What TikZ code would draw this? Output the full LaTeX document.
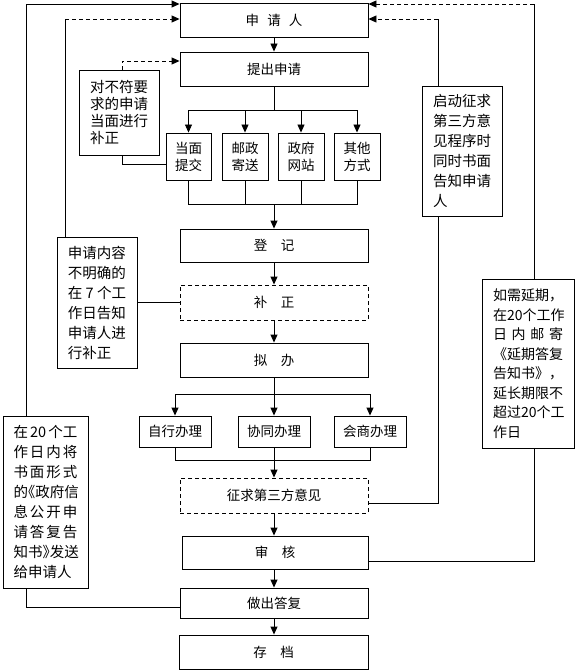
\documentclass[tikz,border=0pt]{standalone}
\usepackage{fontspec}
\setmainfont{Noto Sans CJK SC}
\usetikzlibrary{arrows.meta,calc}
\newcommand{\jline}[2]{\makebox[#1][s]{#2}}
\begin{document}
\begin{tikzpicture}[x=1pt,y=-1pt,
  every node/.style={inner sep=0pt},
  line/.style={line width=0.9pt},
  dline/.style={line width=0.9pt,dash pattern=on 4pt off 3pt},
  arr/.style={-{Triangle[length=8pt,width=7pt]}},
  mainbox/.style={draw,line width=0.9pt,minimum width=188pt,minimum height=34pt,font=\fontsize{13.5}{16}\selectfont},
  dbox/.style={mainbox,dash pattern=on 4pt off 3pt},
  smallbox/.style={draw,line width=0.9pt,minimum width=46pt,minimum height=47pt,align=center,font=\fontsize{13.5}{17}\selectfont},
  banbox/.style={draw,line width=0.9pt,minimum width=72pt,minimum height=31pt,font=\fontsize{13.5}{16}\selectfont},
  sidebox/.style={draw,line width=0.9pt,align=left,font=\fontsize{14.5}{20}\selectfont}]
\useasboundingbox (0,0) rectangle (579,671);
\fill[white] (0,0) rectangle (579,671);

% main column
\node[mainbox] (shenqingren) at (274,20) {申\hspace{0.6em}请\hspace{0.6em}人};
\node[mainbox] (tichu) at (274,69) {提出申请};
\node[smallbox,minimum width=45pt] (dangmian) at (188.5,156.5) {当面\\提交};
\node[smallbox] (youzheng) at (245,156.5) {邮政\\寄送};
\node[smallbox] (zhengfu) at (301,156.5) {政府\\网站};
\node[smallbox] (qita) at (357,156.5) {其他\\方式};
\node[mainbox,minimum height=33pt] (dengji) at (274,245.5) {登\hspace{1em}记};
\node[dbox,minimum height=35pt] (buzheng) at (274,302.5) {补\hspace{1em}正};
\node[mainbox] (niban) at (274,360) {拟\hspace{1em}办};
\node[banbox] (zixing) at (175,431.5) {自行办理};
\node[banbox] (xietong) at (274,431.5) {协同办理};
\node[banbox] (huishang) at (370,431.5) {会商办理};
\node[dbox,minimum height=35pt] (zhengqiu) at (274,495.5) {征求第三方意见};
\node[mainbox,minimum width=186pt,minimum height=33pt] (shenhe) at (275,552.5) {审\hspace{1em}核};
\node[mainbox,minimum height=30pt] (dachu) at (274,603) {做出答复};
\node[mainbox,minimum width=189pt] (cundang) at (273.5,652) {存\hspace{1em}档};

% side boxes
\node[sidebox,minimum width=80pt,minimum height=85pt,font=\fontsize{14.5}{17}\selectfont] (A) at (119,112.5)
  {对不符要\\求的申请\\当面进行\\补正};
\node[sidebox,minimum width=80pt,minimum height=131pt] (B) at (97,302.5)
  {申请内容\\不明确的\\在 7 个工\\作日告知\\申请人进\\行补正};
\node[sidebox,minimum width=85pt,minimum height=172pt] (C) at (45.5,502)
  {\jline{64pt}{在\hfil 20\hfil 个工}\\
   \jline{64pt}{作\hfil 日\hfil 内\hfil 将}\\
   \jline{64pt}{书\hfil 面\hfil 形\hfil 式}\\
   \jline{64pt}{的\kern-.5em《政府信}\\
   \jline{64pt}{息\hfil 公\hfil 开\hfil 申}\\
   \jline{64pt}{请\hfil 答\hfil 复\hfil 告}\\
   \jline{64pt}{知书》\kern-.5em 发送}\\
   给申请人};
\node[sidebox,minimum width=80pt,minimum height=130pt] (D) at (462,151)
  {启动征求\\第三方意\\见程序时\\同时书面\\告知申请\\人};
\node[sidebox,minimum width=92pt,minimum height=169pt,font=\fontsize{14}{19.5}\selectfont] (E) at (528,363.5)
  {如需延期，\\
   \jline{70pt}{在20个工作}\\
   \jline{70pt}{日\hfil 内\hfil 邮\hfil 寄}\\
   《延期答复\\
   告知书》，\\
   延长期限不\\
   \jline{70pt}{超过20个工}\\
   作日};

% main flow connectors
\draw[line,arr] (shenqingren.south) -- (tichu.north);
\coordinate (j0) at (274,110);
\draw[line] (tichu.south) -- (j0);
\draw[line,arr] (j0) -| (dangmian.north);
\draw[line,arr] (j0) -| (youzheng.north);
\draw[line,arr] (j0) -| (zhengfu.north);
\draw[line,arr] (j0) -| (qita.north);
\coordinate (j1) at (274,204);
\draw[line] (dangmian.south) |- (j1);
\draw[line] (youzheng.south) |- (j1);
\draw[line] (zhengfu.south) |- (j1);
\draw[line] (qita.south) |- (j1);
\draw[line,arr] (j1) -- (dengji.north);
\draw[line,arr] (dengji.south) -- (buzheng.north);
\draw[line,arr] (buzheng.south) -- (niban.north);
\coordinate (j2) at (274,394);
\draw[line] (niban.south) -- (j2);
\draw[line,arr] (j2) -| (zixing.north);
\draw[line,arr] (j2) -- (xietong.north);
\draw[line,arr] (j2) -| (huishang.north);
\coordinate (j3) at (274,460);
\draw[line] (zixing.south) |- (j3);
\draw[line] (xietong.south) -- (j3);
\draw[line] (huishang.south) |- (j3);
\draw[line,arr] (j3) -- (zhengqiu.north);
\draw[line,arr] (zhengqiu.south) -- (zhengqiu.south |- shenhe.north);
\draw[line,arr] (shenhe.south -| zhengqiu.south) -- (zhengqiu.south |- dachu.north);
\draw[line,arr] (dachu.south) -- (dachu.south |- cundang.north);

% side connectors
\coordinate (pA) at (122,61);
\draw[dline,arr] (pA |- A.north) -- (pA) -- (pA -| tichu.west);
\coordinate (qA) at (122,164);
\draw[line] (qA |- A.south) -- (qA) -- (qA -| dangmian.west);

\draw[line] (B.east) -- (buzheng.west);
\coordinate (pB) at (65,19);
\draw[line] (pB |- B.north) -- (pB);
\draw[dline,arr] (pB) -- (pB -| shenqingren.west);

\coordinate (pC) at (26,4);
\draw[line,arr] (pC |- C.north) -- (pC) -- (pC -| shenqingren.west);
\coordinate (qC) at (26,607);
\draw[line] (qC |- C.south) -- (qC) -- (qC -| dachu.west);

\coordinate (pD) at (438,19);
\draw[line] (pD |- D.north) -- (pD);
\draw[dline,arr] (pD) -- (pD -| shenqingren.east);
\coordinate (qD) at (438,503);
\draw[line] (qD |- D.south) -- (qD) -- (qD -| zhengqiu.east);

\coordinate (pE) at (534,4);
\draw[line] (pE |- E.north) -- (pE);
\draw[dline,arr] (pE) -- (pE -| shenqingren.east);
\coordinate (qE) at (534,561);
\draw[line] (qE |- E.south) -- (qE) -- (qE -| shenhe.east);
\end{tikzpicture}
\end{document}
